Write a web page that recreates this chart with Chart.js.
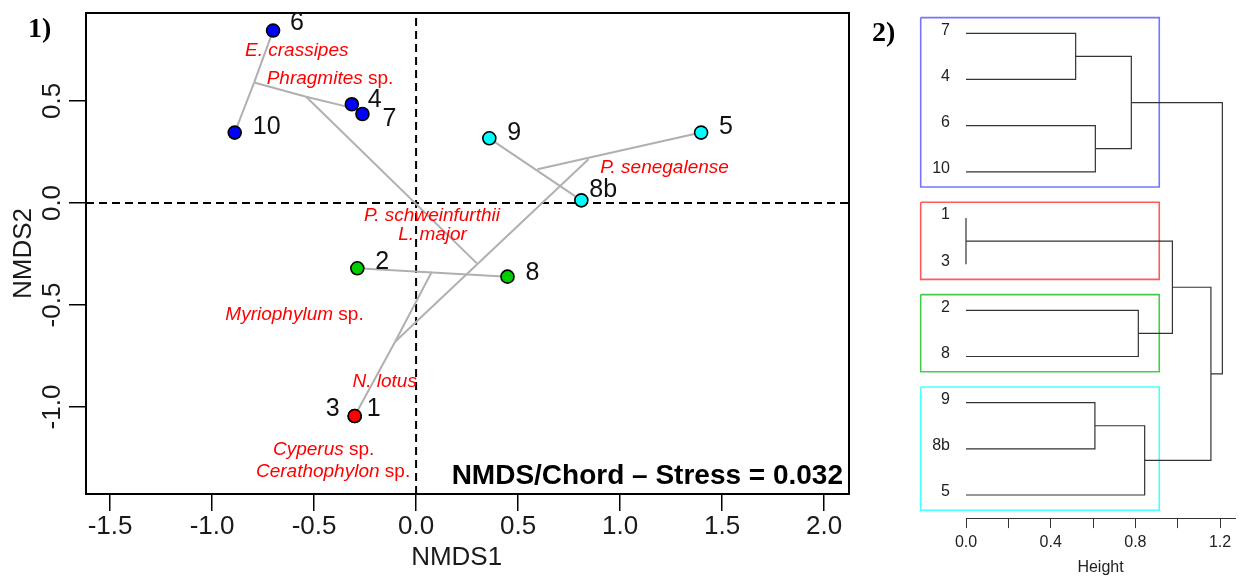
<!DOCTYPE html>
<html><head><meta charset="utf-8">
<script src="https://cdn.jsdelivr.net/npm/chart.js@4.4.1/dist/chart.umd.min.js"></script>
<style>
html,body{margin:0;padding:0;background:#fff;overflow:hidden}
#wrap{position:relative;width:1245px;height:576px;background:#fff}
#c1{position:absolute;left:0;top:0}
#c2{position:absolute;left:860px;top:0}
</style></head><body>
<div id="wrap"><canvas id="c1" width="860" height="576"></canvas><canvas id="c2" width="385" height="576"></canvas></div>
<script>
const FONT = '"Liberation Sans", Arial, Helvetica, sans-serif';
const SERIF = '"Liberation Serif", "Times New Roman", serif';

// ---------- Panel 1 data (NMDS) ----------
const sites  = ['1','2','3','4','5','6','7','8','8b','9','10'];
const nmds1  = [-0.301,-0.288,-0.301,-0.315,1.397,-0.701,-0.263,0.448,0.810,0.359,-0.889];
const nmds2  = [-1.044,-0.320,-1.044,0.484,0.345,0.845,0.436,-0.361,0.013,0.317,0.345];
const siteCluster = [2,3,2,1,4,1,1,3,4,4,1];
const clusterColors = ['#0000FF','#FF0000','#00CD00','#00FFFF'];

// junctions of the grey connection tree
const nodeNames = ['A','B','C','D','E','F','G','H'];
const nodeX = [-0.794,-0.539,0.298,0.845,-0.103,0.077,0.595,-0.289];
const nodeY = [0.590,0.521,-0.296,0.214,-0.680,-0.337,0.165,0.460];
const edgeFrom = ['6','10','A','B','4','B','9','G','D','2','F','E'];
const edgeTo   = ['A','A','B','H','7','C','8b','5','E','8','E','1'];

const species  = ['E. crassipes','Phragmites sp.','P. schweinfurthii','L. major','P. senegalense','Myriophylum sp.','N. lotus','Cyperus sp.','Cerathophylon sp.'];
const speciesX = [-0.585,-0.422,0.078,0.081,1.218,-0.596,-0.154,-0.453,-0.407];
const speciesY = [0.745,0.608,-0.064,-0.157,0.172,-0.549,-0.877,-1.211,-1.319];

const xRange = [-1.618, 2.122];
const yRange = [-1.426, 0.931];
const stressText = 'NMDS/Chord \u2013 Stress = 0.032';

// label placement (style): offset in px from point
const labelDx = {'1':12,'2':18,'3':-15,'4':16,'5':18,'6':17,'7':20,'8':18,'8b':8,'9':18,'10':18};
const labelDy = {'1':-7,'2':-6,'3':-7,'4':-4,'5':-5,'6':-7,'7':5,'8':-4,'8b':-10,'9':-5,'10':-5};

function coord(name){
  const i = sites.indexOf(name);
  if (i >= 0) return {x:nmds1[i], y:nmds2[i]};
  if (name === 'H') { const a=sites.indexOf('4'), b=sites.indexOf('7'); return {x:(nmds1[a]+nmds1[b])/2, y:(nmds2[a]+nmds2[b])/2}; }
  const j = nodeNames.indexOf(name);
  return {x:nodeX[j], y:nodeY[j]};
}

const ds1 = [];
ds1.push({
  label:'sites', data: sites.map((s,i)=>({x:nmds1[i], y:nmds2[i]})),
  pointRadius:6.5, pointHoverRadius:6.5,
  pointBackgroundColor: siteCluster.map(c=>clusterColors[c-1]),
  pointBorderColor:'#000', pointBorderWidth:1.6, showLine:false, order:0, clip:false
});
edgeFrom.forEach((f,k)=>{
  ds1.push({label:'e'+k, data:[coord(f), coord(edgeTo[k])], showLine:true, borderColor:'#b0b0b0',
    borderWidth:2, pointRadius:0, order:2, clip:false});
});
ds1.push({label:'h0', data:[{x:xRange[0],y:0},{x:xRange[1],y:0}], showLine:true, borderColor:'#000', borderWidth:2, borderDash:[8,5], pointRadius:0, order:3});
ds1.push({label:'v0', data:[{x:0,y:yRange[0]},{x:0,y:yRange[1]}], showLine:true, borderColor:'#000', borderWidth:2, borderDash:[8,5], pointRadius:0, order:3});

function drawSpecies(ctx, text, cx, cy){
  const m = text.match(/^(.*?)( sp\.)$/);
  const it = m ? m[1] : text, up = m ? m[2] : '';
  ctx.font = 'italic 19px ' + FONT; const w1 = ctx.measureText(it).width;
  ctx.font = '19px ' + FONT; const w2 = ctx.measureText(up).width;
  const x = cx - (w1+w2)/2;
  ctx.textAlign='left'; ctx.textBaseline='middle'; ctx.fillStyle='#ff0000';
  ctx.font = 'italic 19px ' + FONT; ctx.fillText(it, x, cy);
  ctx.font = '19px ' + FONT; ctx.fillText(up, x+w1, cy);
}

const plug1 = {
  id:'p1',
  afterDraw(chart){
    const ctx = chart.ctx, a = chart.chartArea, xs = chart.scales.x, ys = chart.scales.y;
    ctx.save();
    ctx.strokeStyle='#000'; ctx.lineWidth=2;
    ctx.strokeRect(a.left, a.top, a.right-a.left, a.bottom-a.top);
    species.forEach((s,i)=>drawSpecies(ctx, s, xs.getPixelForValue(speciesX[i]), ys.getPixelForValue(speciesY[i])));
    const meta = chart.getDatasetMeta(0);
    ctx.font = '25px ' + FONT; ctx.fillStyle='#111'; ctx.textBaseline='middle';
    sites.forEach((s,i)=>{
      const p = meta.data[i];
      const dx = labelDx[s], dy = labelDy[s];
      ctx.textAlign = dx < 0 ? 'right' : 'left';
      ctx.fillText(s, p.x+dx, p.y+dy);
    });
    ctx.font = 'bold 28px ' + FONT; ctx.fillStyle='#000'; ctx.textAlign='right'; ctx.textBaseline='alphabetic';
    ctx.fillText(stressText, a.right-6, a.bottom-10);
    ctx.font = 'bold 28px ' + SERIF; ctx.textAlign='left';
    ctx.fillText('1)', 28, 37);
    ctx.restore();
  }
};

Chart.defaults.font.family = FONT;

new Chart(document.getElementById('c1'), {
  type:'scatter',
  data:{datasets:ds1},
  options:{
    responsive:false, animation:false, devicePixelRatio:1,
    layout:{padding:{left:0, top:13, right:11, bottom:0}},
    plugins:{legend:{display:false}, tooltip:{enabled:false}},
    events:[],
    scales:{
      x:{type:'linear', min:xRange[0], max:xRange[1],
        afterFit(s){ s.height = 82; },
        ticks:{stepSize:0.5, includeBounds:false, autoSkip:false, maxRotation:0, padding:0,
          font:{size:26, family:FONT}, color:'#1a1a1a', callback:v=>v.toFixed(1)},
        grid:{drawOnChartArea:false, drawTicks:true, tickLength:17, color:'#000', lineWidth:1.5},
        border:{display:false},
        title:{display:true, text:'NMDS1\u00a0\u00a0\u00a0', font:{size:26, family:FONT}, color:'#1a1a1a', padding:{top:0, bottom:3}}
      },
      y:{type:'linear', min:yRange[0], max:yRange[1],
        afterFit(s){ s.width = 86; },
        ticks:{stepSize:0.5, includeBounds:false, autoSkip:false, minRotation:90, maxRotation:90, crossAlign:'center', padding:-6,
          font:{size:26, family:FONT}, color:'#1a1a1a', callback:v=>v.toFixed(1)},
        grid:{drawOnChartArea:false, drawTicks:true, tickLength:17, color:'#000', lineWidth:1.5},
        border:{display:false},
        title:{display:true, text:'NMDS2', font:{size:26, family:FONT}, color:'#1a1a1a', padding:{top:8, bottom:0}}
      }
    }
  },
  plugins:[plug1]
});

// ---------- Panel 2 data (dendrogram) ----------
const leafOrder   = ['7','4','6','10','1','3','2','8','9','8b','5'];
const mergeA      = ['7','6','1','2','9','m1','m3','m5','m7','m6'];
const mergeB      = ['4','10','3','8','8b','m2','m4','5','m8','m9'];
const mergeHeight = [0.518,0.611,0.000,0.814,0.609,0.781,0.975,0.844,1.157,1.211];
const clusterFirst = ['7','1','2','9'];
const clusterLast  = ['10','3','8','5'];
const boxColors = ['#7474ff','#ff5a5a','#48cc48','#48ffff'];
const boxLeft = -0.214, boxRight = 0.913;

const pos = {};
leafOrder.forEach((l,i)=>{ pos[l] = {h:0, y:i}; });
const ds2 = [];
mergeA.forEach((a,k)=>{
  const A = pos[a], B = pos[mergeB[k]], h = mergeHeight[k];
  pos['m'+(k+1)] = {h:h, y:(A.y+B.y)/2};
  ds2.push({label:'m'+k, data:[{x:A.h,y:A.y},{x:h,y:A.y},{x:h,y:B.y},{x:B.h,y:B.y}],
    showLine:true, borderColor:'#333', borderWidth:1.2, pointRadius:0, clip:false, order:1});
});
clusterFirst.forEach((f,k)=>{
  const y0 = leafOrder.indexOf(f) - 0.34, y1 = leafOrder.indexOf(clusterLast[k]) + 0.33;
  ds2.push({label:'box'+k, data:[{x:boxLeft,y:y0},{x:boxRight,y:y0},{x:boxRight,y:y1},{x:boxLeft,y:y1},{x:boxLeft,y:y0}],
    showLine:true, borderColor:boxColors[k], borderWidth:1.6, pointRadius:0, clip:false, order:2, tension:0});
});

const plug2 = {
  id:'p2',
  afterDraw(chart){
    const ctx = chart.ctx, xs = chart.scales.x, ys = chart.scales.y;
    ctx.save();
    ctx.font = '16px ' + FONT; ctx.fillStyle='#222'; ctx.textAlign='right'; ctx.textBaseline='middle';
    leafOrder.forEach((l,i)=>{ ctx.fillText(l, xs.getPixelForValue(0)-16, ys.getPixelForValue(i)-3); });
    ctx.font = 'bold 28px ' + SERIF; ctx.fillStyle='#000'; ctx.textAlign='left'; ctx.textBaseline='alphabetic';
    ctx.fillText('2)', 12, 41);
    ctx.restore();
  }
};

new Chart(document.getElementById('c2'), {
  type:'scatter',
  data:{datasets:ds2},
  options:{
    responsive:false, animation:false, devicePixelRatio:1,
    layout:{padding:{left:106, top:10.2, right:10, bottom:0}},
    plugins:{legend:{display:false}, tooltip:{enabled:false}},
    events:[],
    scales:{
      x:{type:'linear', min:0, max:1.2707,
        afterFit(s){ s.height = 57.9; },
        ticks:{stepSize:0.2, includeBounds:false, autoSkip:false, maxRotation:0, padding:5,
          font:{size:16, family:FONT}, color:'#222',
          callback:v=>(Math.round(v*10)%4===0 ? v.toFixed(1) : '')},
        grid:{drawOnChartArea:false, drawTicks:true, tickLength:10, color:'#333', lineWidth:1},
        border:{display:true, color:'#333', width:1},
        title:{display:true, text:'Height', font:{size:16, family:FONT}, color:'#222', padding:{top:0, bottom:-1}}
      },
      y:{type:'linear', min:-0.5, max:10.5, reverse:true, display:false}
    }
  },
  plugins:[plug2]
});
</script>
</body></html>
